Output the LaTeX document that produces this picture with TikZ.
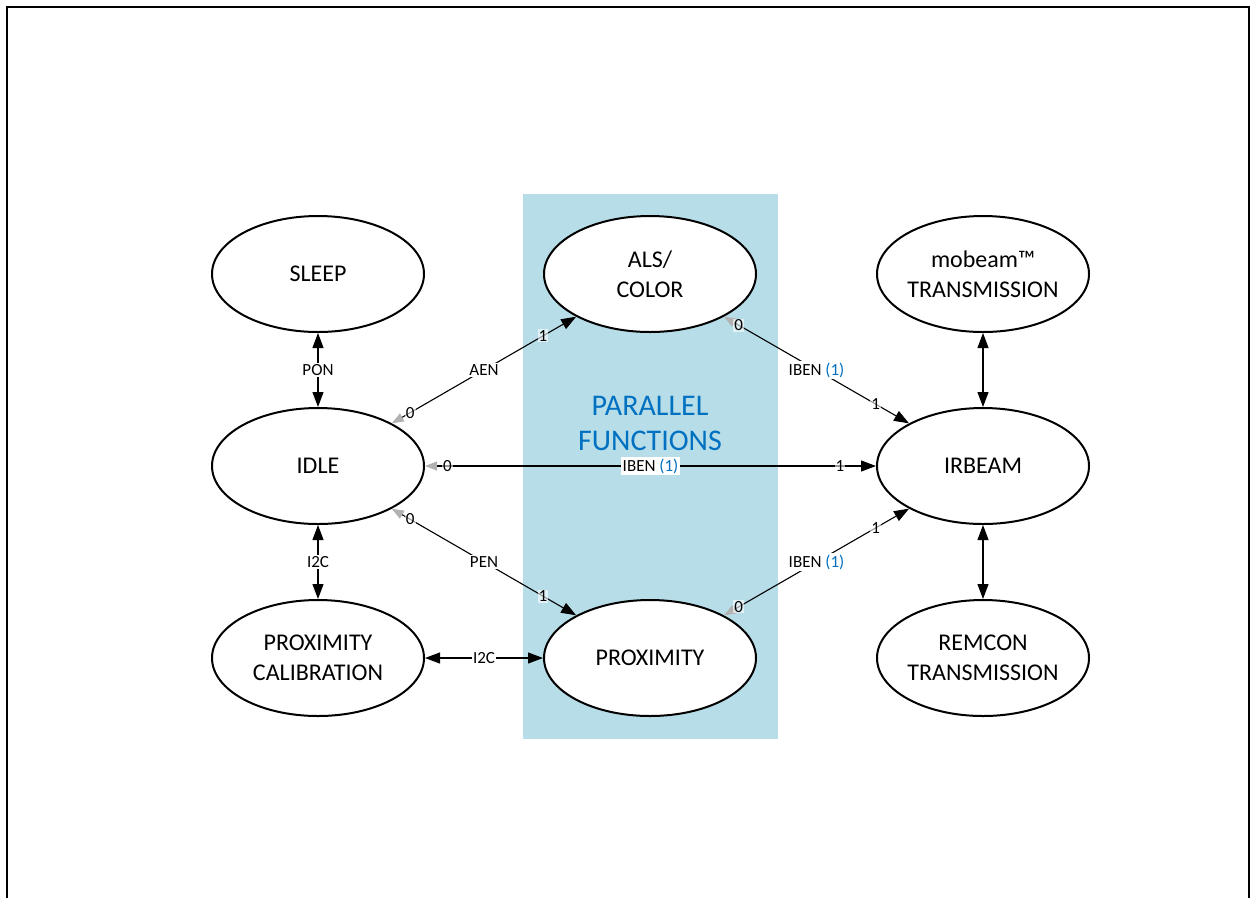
\documentclass[tikz,border=0pt]{standalone}
\usepackage{fontspec}
\setmainfont{Carlito}
\usetikzlibrary{shapes.geometric,arrows.meta}
\definecolor{boxblue}{RGB}{183,221,232}
\definecolor{txtblue}{RGB}{0,112,192}
\begin{document}
\begin{tikzpicture}[x=1pt,y=-1pt,
  state/.style={ellipse, draw, line width=2pt, minimum width=212pt, minimum height=116pt, inner sep=0pt, inner xsep=-8pt, align=center, font=\fontsize{24}{30}\selectfont, fill=white},
  conn/.style={line width=1.1pt},
  lbl/.style={fill=white, inner sep=1.5pt, font=\fontsize{17}{18}\selectfont},
  bit/.style={fill=white, fill opacity=0.6, text opacity=1, inner sep=1pt, font=\fontsize{17}{18}\selectfont},
  bb/.style={{Triangle[length=15pt,width=11pt]}-{Triangle[length=15pt,width=11pt]}},
  gb/.style={{Triangle[length=12pt,width=9pt,color=gray!60]}-{Triangle[length=15pt,width=11pt]}},
]
\useasboundingbox (0,0) rectangle (1252,898);
\fill[boxblue] (523,194) rectangle (778,739);
\draw[line width=2pt] (7,898) -- (7,7) -- (1249,7) -- (1249,898);
\node[text=txtblue, font=\fontsize{30}{35}\selectfont, align=center] (par) at (650,423) {PARALLEL\\FUNCTIONS};

\node[state] (sleep) at (318,274) {SLEEP};
\node[state] (idle) at (318,466) {IDLE};
\node[state] (pcal) at (318,658) {PROXIMITY\\CALIBRATION};
\node[state] (als) at (650,274) {ALS/\\COLOR};
\node[state] (prox) at (650,658) {PROXIMITY};
\node[state] (mob) at (983,274) {mobeam™\\TRANSMISSION};
\node[state] (irb) at (983,466) {IRBEAM};
\node[state] (rem) at (983,658) {REMCON\\TRANSMISSION};

\draw[conn,bb] (sleep) -- node[lbl]{PON} (idle);
\draw[conn,bb] (idle) -- node[lbl]{I2C} (pcal);
\draw[conn,bb] (pcal) -- node[lbl]{I2C} (prox);
\draw[conn,bb] (mob) -- (irb);
\draw[conn,bb] (irb) -- (rem);

\draw[conn,gb] (idle) -- node[lbl]{AEN} node[bit,pos=0.1]{0} node[bit,pos=0.82]{1} (als);
\draw[conn,gb] (als) -- node[lbl]{IBEN \textcolor{txtblue}{(1)}} node[bit,pos=0.08]{0} node[bit,pos=0.82]{1} (irb);
\draw[conn,gb] (idle) -- node[lbl]{IBEN \textcolor{txtblue}{(1)}} node[bit,pos=0.05]{0} node[bit,pos=0.92]{1} (irb);
\draw[conn,gb] (idle) -- node[lbl]{PEN} node[bit,pos=0.1]{0} node[bit,pos=0.82]{1} (prox);
\draw[conn,gb] (prox) -- node[lbl]{IBEN \textcolor{txtblue}{(1)}} node[bit,pos=0.08]{0} node[bit,pos=0.82]{1} (irb);
\end{tikzpicture}
\end{document}
